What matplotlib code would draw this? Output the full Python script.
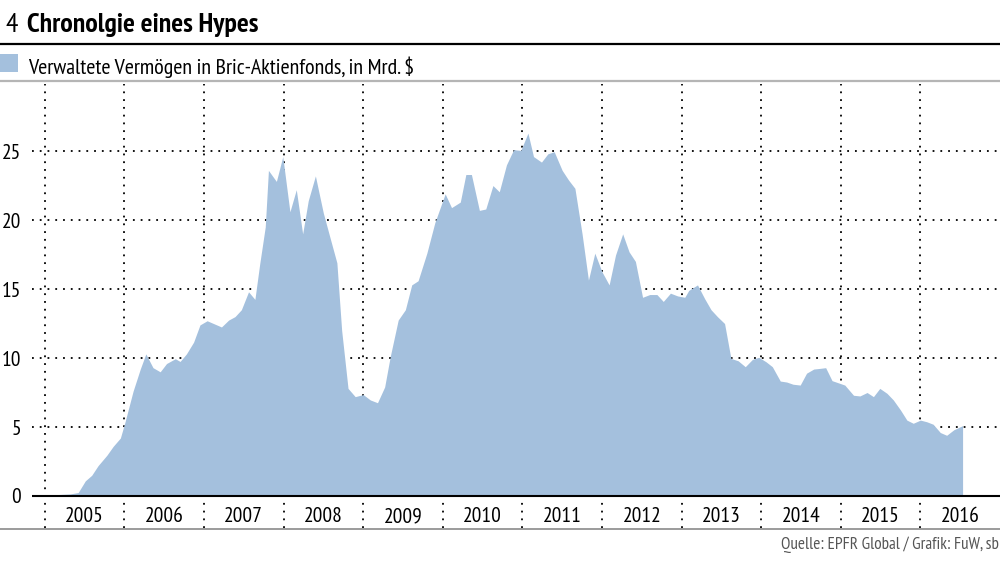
import matplotlib
matplotlib.use("Agg")
import matplotlib.pyplot as plt
from matplotlib.lines import Line2D
from matplotlib.patches import Rectangle

plt.rcParams["font.family"] = ["PT Sans Narrow", "DejaVu Sans"]

# values (decimal year, bn USD)
dates = [
    2005.00, 2005.15, 2005.32, 2005.42, 2005.51, 2005.59, 2005.67, 2005.78, 2005.86, 2005.95,
    2006.01, 2006.11, 2006.20, 2006.27, 2006.36, 2006.45, 2006.53, 2006.64, 2006.70, 2006.78,
    2006.87, 2006.95, 2007.04, 2007.12, 2007.22, 2007.31, 2007.39, 2007.47, 2007.56, 2007.64,
    2007.70, 2007.77, 2007.81, 2007.91, 2007.99, 2008.08, 2008.16, 2008.24, 2008.31, 2008.40,
    2008.50, 2008.58, 2008.67, 2008.73, 2008.81, 2008.90, 2009.00, 2009.09, 2009.18, 2009.27,
    2009.34, 2009.44, 2009.53, 2009.61, 2009.69, 2009.80, 2009.90, 2010.03, 2010.11, 2010.22,
    2010.29, 2010.36, 2010.46, 2010.54, 2010.63, 2010.71, 2010.80, 2010.89, 2010.98, 2011.07,
    2011.14, 2011.24, 2011.32, 2011.40, 2011.50, 2011.58, 2011.66, 2011.75, 2011.83, 2011.91,
    2012.00, 2012.09, 2012.17, 2012.26, 2012.34, 2012.42, 2012.51, 2012.60, 2012.69, 2012.77,
    2012.86, 2012.95, 2013.04, 2013.09, 2013.20, 2013.29, 2013.37, 2013.45, 2013.54, 2013.62,
    2013.71, 2013.80, 2013.89, 2013.97, 2014.06, 2014.14, 2014.24, 2014.32, 2014.40, 2014.49,
    2014.57, 2014.66, 2014.74, 2014.81, 2014.89, 2014.97, 2015.05, 2015.16, 2015.24, 2015.33,
    2015.41, 2015.49, 2015.58, 2015.66, 2015.75, 2015.83, 2015.91, 2016.00, 2016.08, 2016.16,
    2016.25, 2016.33, 2016.42, 2016.52, 2016.53,
]
assets = [
    0.05, 0.1, 0.15, 0.25, 1.1, 1.5, 2.2, 2.95, 3.6, 4.2,
    5.4, 7.6, 9.2, 10.3, 9.3, 9.0, 9.6, 9.95, 9.75, 10.3,
    11.15, 12.4, 12.7, 12.5, 12.25, 12.75, 13.0, 13.5, 14.8, 14.25,
    16.8, 19.5, 23.6, 22.8, 24.6, 20.6, 22.2, 19.0, 21.4, 23.2,
    20.5, 18.8, 16.9, 12.0, 7.8, 7.2, 7.35, 6.96, 6.76, 7.9,
    10.1, 12.75, 13.5, 15.3, 15.6, 17.6, 19.8, 21.9, 20.9, 21.3,
    23.3, 23.3, 20.7, 20.8, 22.5, 22.05, 24.0, 25.1, 25.05, 26.3,
    24.6, 24.2, 24.8, 24.95, 23.6, 22.9, 22.3, 19.0, 15.65, 17.6,
    16.25, 15.3, 17.46, 19.0, 17.7, 17.0, 14.4, 14.6, 14.6, 14.1,
    14.7, 14.5, 14.4, 14.9, 15.3, 14.3, 13.5, 13.0, 12.5, 9.97,
    9.8, 9.37, 9.9, 10.05, 9.73, 9.37, 8.33, 8.26, 8.1, 8.04,
    8.9, 9.2, 9.25, 9.3, 8.36, 8.2, 8.04, 7.3, 7.25, 7.5,
    7.2, 7.8, 7.44, 6.96, 6.23, 5.5, 5.27, 5.5, 5.38, 5.2,
    4.6, 4.4, 4.8, 5.07, 5.1,
]
years = list(range(2005, 2017))
y_ticks = [0, 5, 10, 15, 20, 25]

title_num = "4"
title = "Chronolgie eines Hypes"
legend_label = "Verwaltete Vermögen in Bric-Aktienfonds, in Mrd. $"
source = "Quelle: EPFR Global / Grafik: FuW, sb"

fill_color = "#a4c0dd"
W, H = 1000, 582

fig = plt.figure(figsize=(W / 100, H / 100), dpi=100)


def fy(py):
    return 1 - py / H


ax = fig.add_axes([32 / W, fy(528), 1 - 32 / W, fy(84) - fy(528)])
ax.set_xlim(2004.84, 2017.0)
ax.set_ylim(-2.32, 29.86)

dots = dict(color="black", lw=1.3, linestyle=(0, (1, 3.3)), zorder=1)
for yv in y_ticks[1:]:
    ax.axhline(yv, **dots)
for yr in years:
    ax.axvline(yr, **dots)

ax.fill_between(dates, 0, assets, color=fill_color, lw=0, zorder=2)
ax.axhline(0, color="black", lw=1.5, zorder=3)

for yr in years:
    ax.text(yr + 0.5, -1.5, str(yr), ha="center", va="center", fontsize=15.5)

ax.set_yticks(y_ticks)
ax.set_yticklabels([str(v) for v in y_ticks], fontsize=15.5)
ax.tick_params(axis="y", length=0, pad=8)
ax.set_xticks([])
for s in ax.spines.values():
    s.set_visible(False)

# header
fig.text(5 / W, fy(32), title_num, fontsize=20, va="baseline", ha="left")
fig.text(27 / W, fy(32), title, fontsize=20, fontweight="bold", va="baseline", ha="left")
fig.add_artist(Line2D([0, 1], [fy(44), fy(44)], color="black", lw=1.6))
fig.add_artist(Rectangle((0, fy(72)), 18 / W, 18 / H, color=fill_color, lw=0))
fig.text(28 / W, fy(74), legend_label, fontsize=15.8, va="baseline", ha="left")
fig.add_artist(Line2D([0, 1], [fy(81.5), fy(81.5)], color="#b5b5b5", lw=1.6))

# footer
fig.add_artist(Line2D([0, 1], [fy(529), fy(529)], color="#8a8a8a", lw=1.2))
fig.text(999 / W, fy(545), source, fontsize=12.3, color="#555555", va="center", ha="right")

fig.savefig("out.png", dpi=100)
